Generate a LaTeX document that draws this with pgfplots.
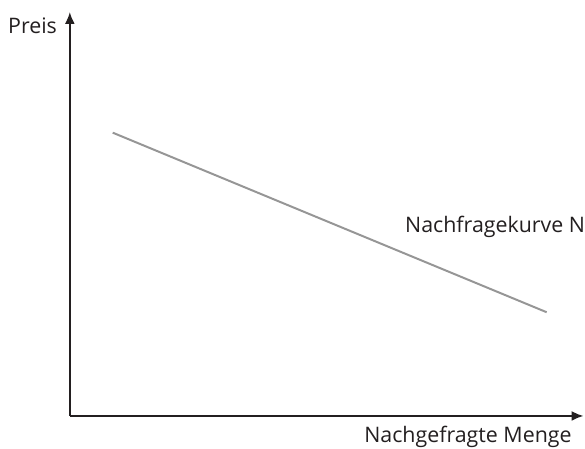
\documentclass[border=0pt]{standalone}
\usepackage{pgfplots}
\pgfplotsset{compat=1.18}
\usetikzlibrary{arrows.meta}
\usepackage{fontspec}
\setmainfont{Open Sans}
\definecolor{kurve}{RGB}{150,150,150}
\definecolor{txt}{RGB}{35,31,32}
\begin{document}
\begin{tikzpicture}
\begin{axis}[
  scale only axis,
  width=515bp, height=405bp,
  xmin=0, xmax=515, ymin=0, ymax=405,
  axis lines=left,
  axis line style={line width=2pt, -{Latex[length=12pt,width=10pt]}, txt},
  ticks=none,
  clip=false,
]
\addplot[kurve, line width=2pt] coordinates {(43,284) (478,104)};
\node[anchor=base west, font=\fontsize{21.5}{25}\selectfont, text=txt, inner sep=0pt] at (axis cs:-62,383) {Preis};
\node[anchor=base west, font=\fontsize{21.5}{25}\selectfont, text=txt, inner sep=0pt] at (axis cs:336,184) {Nachfragekurve N};
\node[anchor=base west, font=\fontsize{21.5}{25}\selectfont, text=txt, inner sep=0pt] at (axis cs:295,-27) {Nachgefragte Menge};
\path[use as bounding box] (axis cs:-70,-33) rectangle (axis cs:515,417);
\end{axis}
\end{tikzpicture}
\end{document}
